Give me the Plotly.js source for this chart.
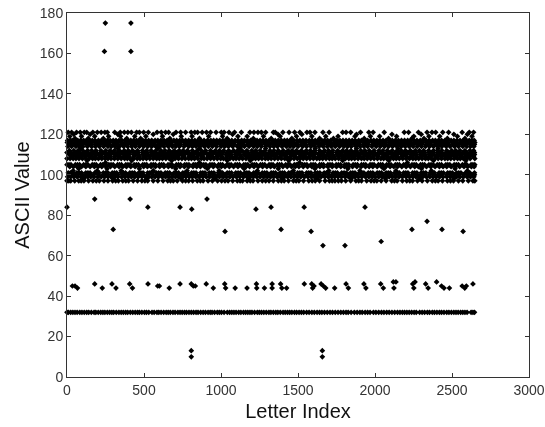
<!DOCTYPE html>
<html><head><meta charset="utf-8">
<script src="https://cdn.plot.ly/plotly-3.0.1.min.js"></script>
<style>html,body{margin:0;padding:0;background:#fff}#c{width:545px;height:427px;filter:blur(0.35px)}</style>
</head><body><div id="c"></div>
<script>
// Isolated points. Inside the saturated bands individual
// marks cannot be separated, so those x positions are estimates that reproduce the density.
const xTitle = "Letter Index", yTitle = "ASCII Value";
const row175 = [249,415];
const row161 = [243,415];
const row88 = [180,410,909];
const row84 = [0,525,734,1325,1540,1935];
const row83 = [810,1227];
const row77 = [2338];
const row73 = [300,1390,2240,2435];
const row72 = [1026,1585,2572];
const row67 = [2040];
const row65 = [1662,1805];
const row47 = [2119,2136,2260,2400];
const row46 = [180,292,407,526,734,807,904,1024,1230,1332,1387,1541,1589,1650,1812,1928,2037,2245,2329,2636];
const row45 = [35,52,589,600,820,833,1604,1665,2432,2566,2593];
const row44 = [68,229,318,425,664,950,1030,1092,1169,1232,1282,1332,1395,1426,1595,1680,1738,1827,1941,2054,2123,2252,2345,2448,2483,2583];
const row13 = [807,1658];
const row10 = [807,1658];
const row32 = [0,9,24,38,52,66,83,97,112,128,141,158,176,187,203,219,233,246,262,277,291,303,320,337,352,366,381,394,411,427,443,458,470,486,503,516,531,552,566,584,596,611,628,644,657,671,688,702,720,734,748,763,776,792,807,822,838,851,868,884,899,916,930,942,958,976,989,1003,1020,1041,1056,1070,1084,1098,1115,1129,1146,1160,1174,1188,1201,1218,1236,1249,1263,1278,1294,1311,1324,1340,1356,1369,1385,1403,1417,1432,1446,1460,1477,1491,1507,1522,1537,1556,1572,1590,1606,1624,1640,1655,1672,1690,1708,1724,1742,1760,1778,1795,1812,1826,1845,1866,1884,1902,1917,1936,1952,1968,1990,2006,2024,2042,2058,2076,2092,2110,2128,2146,2162,2178,2192,2207,2222,2238,2254,2268,2290,2306,2322,2340,2354,2372,2386,2402,2418,2432,2448,2466,2480,2496,2512,2526,2540,2556,2570,2584,2598,2624,2636,2646];
const row121 = [8,30,62,86,112,128,168,197,222,246,262,310,346,372,395,418,452,470,498,528,585,612,640,660,708,738,770,806,830,848,878,906,932,968,1002,1020,1052,1088,1132,1188,1214,1240,1262,1290,1340,1352,1402,1442,1478,1512,1558,1578,1610,1662,1702,1790,1812,1842,1906,1960,1988,2060,2190,2218,2282,2338,2370,2394,2440,2478,2566,2612,2640];
const row120 = [44,150,330,560,690,1075,1370,1525,1880,2110,2300,2512,2600];
const row119 = [18,94,180,270,348,440,512,620,742,812,920,1010,1110,1170,1276,1384,1490,1590,1680,1760,1870,1970,2030,2140,2252,2350,2420,2535,2630];
const row118 = [52,138,236,388,478,668,860,1040,1210,1326,1460,1640,1730,1930,2088,2240,2318,2470,2584];
const row117 = [4,22,34,52,70,88,108,126,146,164,182,204,224,242,262,280,300,318,338,356,376,394,414,432,452,472,492,510,530,550,572,590,610,630,650,672,694,712,732,750,770,790,810,830,852,870,890,912,934,952,972,992,1012,1030,1050,1070,1092,1112,1134,1152,1172,1192,1214,1234,1254,1272,1292,1312,1334,1352,1372,1392,1412,1430,1450,1472,1494,1512,1532,1552,1574,1592,1612,1632,1654,1672,1692,1712,1734,1752,1772,1792,1812,1832,1852,1872,1894,1912,1932,1952,1974,1992,2012,2032,2052,2072,2094,2112,2132,2152,2172,2192,2212,2232,2252,2272,2294,2312,2332,2352,2374,2392,2412,2432,2454,2474,2494,2512,2532,2552,2572,2592,2612,2628,2644];
const row116 = [2,15,28,56,70,84,110,138,150,164,192,220,233,246,274,300,314,328,354,382,396,410,436,464,478,490,518,546,559,572,600,626,640,654,680,708,722,736,762,790,803,816,844,870,884,898,926,952,966,980,1006,1034,1047,1060,1088,1116,1129,1142,1170,1196,1210,1224,1250,1278,1292,1306,1332,1360,1373,1386,1414,1440,1454,1468,1496,1522,1536,1550,1576,1604,1617,1630,1658,1686,1699,1712,1740,1766,1780,1794,1820,1848,1862,1876,1902,1930,1943,1956,1984,2010,2024,2038,2066,2092,2106,2120,2146,2174,2187,2200,2228,2256,2269,2282,2310,2336,2350,2364,2390,2418,2432,2446,2472,2500,2513,2526,2554,2580,2594,2608,2636,2648];
const row115 = [12,27,42,70,85,100,128,143,158,186,201,216,244,259,274,302,317,332,360,375,390,418,433,448,476,491,506,534,549,564,592,607,622,650,665,680,708,723,738,766,781,796,824,839,854,882,897,912,940,955,970,998,1013,1028,1056,1071,1086,1114,1129,1144,1172,1187,1202,1230,1245,1260,1288,1303,1318,1346,1361,1376,1404,1419,1434,1462,1477,1492,1520,1535,1550,1578,1593,1608,1636,1651,1666,1694,1709,1724,1752,1767,1782,1810,1825,1840,1868,1883,1898,1926,1941,1956,1984,1999,2014,2042,2057,2072,2100,2115,2130,2158,2173,2188,2216,2231,2246,2274,2289,2304,2332,2347,2362,2390,2405,2420,2448,2463,2478,2506,2521,2536,2564,2579,2594,2622,2634,2646];
const row114 = [6,30,58,80,104,132,160,184,210,238,266,288,312,340,368,394,420,444,470,498,524,550,576,604,630,658,684,706,730,760,790,814,838,864,892,918,944,972,1000,1024,1048,1076,1106,1130,1152,1182,1212,1236,1262,1290,1318,1342,1366,1396,1424,1448,1472,1500,1530,1556,1584,1610,1636,1664,1690,1716,1742,1770,1798,1822,1846,1876,1904,1928,1952,1980,2008,2034,2062,2088,2114,2142,2170,2196,2222,2248,2274,2302,2328,2354,2380,2408,2434,2462,2488,2516,2542,2570,2596,2620,2642];
const row113 = [90,330,590,860,1120,1290,1612,1880,2150,2410];
const row112 = [16,44,72,102,134,160,188,220,252,280,308,340,372,398,426,458,490,518,546,578,610,636,664,696,728,754,782,814,846,872,900,932,964,990,1018,1050,1082,1108,1136,1168,1200,1226,1254,1286,1318,1344,1372,1404,1436,1462,1490,1522,1554,1580,1608,1640,1672,1698,1726,1758,1790,1816,1844,1876,1908,1934,1962,1994,2026,2052,2080,2112,2144,2170,2198,2230,2262,2288,2316,2348,2380,2406,2434,2466,2498,2524,2552,2584,2616,2640];
const row111 = [0,13,26,54,68,82,110,123,136,164,178,192,218,232,246,274,287,300,328,342,356,382,396,410,438,451,464,492,506,520,546,560,574,602,615,628,656,670,684,710,724,738,766,779,792,820,834,848,874,888,902,930,943,956,984,998,1012,1038,1052,1066,1094,1107,1120,1148,1162,1176,1202,1216,1230,1258,1271,1284,1312,1326,1340,1366,1380,1394,1422,1435,1448,1476,1490,1504,1530,1544,1558,1586,1599,1612,1640,1654,1668,1694,1708,1722,1750,1763,1776,1804,1818,1832,1858,1872,1886,1914,1927,1940,1968,1982,1996,2022,2036,2050,2078,2091,2104,2132,2146,2160,2186,2200,2214,2242,2255,2268,2296,2310,2324,2350,2364,2378,2406,2419,2432,2460,2474,2488,2514,2528,2542,2570,2583,2596,2624,2636,2646];
const row110 = [14,29,44,72,88,104,132,148,164,192,208,224,252,268,284,312,328,344,372,388,404,432,448,464,492,508,524,552,568,584,612,628,644,672,688,704,732,748,764,792,808,824,852,868,884,912,928,944,972,988,1004,1032,1048,1064,1092,1108,1124,1152,1168,1184,1212,1228,1244,1272,1288,1304,1332,1348,1364,1392,1408,1424,1452,1468,1484,1512,1528,1544,1572,1588,1604,1632,1648,1664,1692,1708,1724,1752,1768,1784,1812,1828,1844,1872,1888,1904,1932,1948,1964,1992,2008,2024,2052,2068,2084,2112,2128,2144,2172,2188,2204,2232,2248,2264,2292,2308,2324,2352,2368,2384,2412,2428,2444,2472,2488,2504,2532,2548,2564,2592,2608,2624,2646];
const row109 = [30,60,92,120,148,182,216,248,280,310,340,368,398,434,470,504,538,566,596,628,660,688,718,756,792,818,846,880,916,944,974,1006,1040,1068,1098,1132,1168,1196,1226,1260,1294,1322,1352,1386,1422,1450,1480,1514,1548,1576,1606,1640,1674,1702,1732,1766,1800,1828,1858,1892,1926,1954,1984,2018,2052,2080,2110,2144,2178,2206,2236,2270,2304,2332,2362,2396,2430,2458,2488,2522,2556,2584,2614,2640];
const row108 = [0,20,40,58,78,100,122,144,166,184,204,226,248,266,286,308,330,352,374,392,412,434,456,474,494,516,538,560,582,600,620,642,664,682,702,724,746,768,790,808,828,850,872,890,910,932,954,976,998,1016,1036,1058,1080,1098,1118,1140,1162,1184,1206,1224,1244,1266,1288,1306,1326,1348,1370,1392,1414,1432,1452,1474,1496,1514,1534,1556,1578,1600,1622,1640,1660,1682,1704,1722,1742,1764,1786,1808,1830,1848,1868,1890,1912,1930,1950,1972,1994,2016,2038,2056,2076,2098,2120,2138,2158,2180,2202,2224,2246,2264,2284,2306,2328,2346,2366,2388,2410,2432,2454,2472,2492,2514,2536,2554,2574,2596,2618,2648];
const row107 = [130,420,680,1040,1190,1440,1790,2090,2380,2590];
const row106 = [250,860,1510,2210];
const row105 = [0,13,26,54,68,82,108,122,136,164,177,190,218,232,246,272,286,300,328,341,354,382,396,410,436,450,464,492,505,518,546,560,574,600,614,628,656,669,682,710,724,738,764,778,792,820,833,846,874,888,902,928,942,956,984,997,1010,1038,1052,1066,1092,1106,1120,1148,1161,1174,1202,1216,1230,1256,1270,1284,1312,1325,1338,1366,1380,1394,1420,1434,1448,1476,1489,1502,1530,1544,1558,1584,1598,1612,1640,1653,1666,1694,1708,1722,1748,1762,1776,1804,1817,1830,1858,1872,1886,1912,1926,1940,1968,1981,1994,2022,2036,2050,2076,2090,2104,2132,2145,2158,2186,2200,2214,2240,2254,2268,2296,2309,2322,2350,2364,2378,2404,2418,2432,2460,2473,2486,2514,2528,2542,2568,2582,2596,2624,2636,2648];
const row104 = [18,42,66,94,122,150,178,202,226,254,282,310,338,362,386,414,442,470,498,522,546,574,602,630,658,682,706,734,762,790,818,842,866,894,922,950,978,1002,1026,1054,1082,1110,1138,1162,1186,1214,1242,1270,1298,1322,1346,1374,1402,1430,1458,1482,1506,1534,1562,1590,1618,1642,1666,1694,1722,1750,1778,1802,1826,1854,1882,1910,1938,1962,1986,2014,2042,2070,2098,2122,2146,2174,2202,2230,2258,2282,2306,2334,2362,2390,2418,2442,2466,2494,2522,2550,2578,2602,2626,2644];
const row103 = [76,260,470,706,912,1150,1372,1610,1824,2058,2302,2520];
const row102 = [40,196,352,560,780,988,1236,1470,1700,1902,2136,2366,2600];
const row101 = [8,22,36,64,79,94,122,136,150,180,194,208,236,251,266,294,308,322,352,366,380,408,423,438,466,480,494,524,538,552,580,595,610,638,652,666,696,710,724,752,767,782,810,824,838,868,882,896,924,939,954,982,996,1010,1040,1054,1068,1096,1111,1126,1154,1168,1182,1212,1226,1240,1268,1283,1298,1326,1340,1354,1384,1398,1412,1440,1455,1470,1498,1512,1526,1556,1570,1584,1612,1627,1642,1670,1684,1698,1728,1742,1756,1784,1799,1814,1842,1856,1870,1900,1914,1928,1956,1971,1986,2014,2028,2042,2072,2086,2100,2128,2143,2158,2186,2200,2214,2244,2258,2272,2300,2315,2330,2358,2372,2386,2416,2430,2444,2472,2487,2502,2530,2544,2558,2588,2602,2616,2646];
const row100 = [22,46,70,100,128,150,172,204,236,262,288,310,330,362,396,422,448,470,492,524,556,580,604,628,652,684,716,740,762,788,814,840,868,896,926,954,984,1006,1028,1060,1092,1118,1144,1170,1196,1226,1256,1282,1308,1336,1366,1392,1418,1446,1476,1502,1528,1556,1586,1612,1638,1666,1696,1722,1748,1776,1806,1832,1858,1886,1916,1942,1968,1996,2026,2052,2078,2106,2136,2162,2188,2216,2246,2272,2298,2326,2356,2382,2408,2436,2466,2492,2518,2546,2576,2602,2628,2646];
const row99 = [4,24,44,66,90,112,134,154,176,200,222,244,266,286,308,330,354,376,398,418,440,462,486,508,530,550,572,594,618,640,662,682,704,726,750,772,794,814,836,858,882,904,926,946,968,990,1014,1036,1058,1078,1100,1122,1146,1168,1190,1210,1232,1254,1278,1300,1322,1342,1364,1386,1410,1432,1454,1474,1496,1518,1542,1564,1586,1606,1628,1650,1674,1696,1718,1738,1760,1782,1806,1828,1850,1870,1892,1914,1938,1960,1982,2002,2024,2046,2070,2092,2114,2134,2156,2178,2202,2224,2246,2266,2288,2310,2334,2356,2378,2398,2420,2442,2466,2488,2510,2530,2552,2574,2598,2620,2642];
const row98 = [110,300,520,742,960,1180,1402,1624,1846,2068,2290,2512];
const row97 = [0,12,24,50,76,92,110,140,168,190,210,240,266,296,316,334,362,382,400,430,458,486,506,524,560,590,624,654,672,690,716,750,770,790,816,846,866,884,916,944,978,1004,1026,1046,1076,1106,1124,1140,1170,1190,1208,1240,1268,1290,1312,1340,1372,1392,1410,1438,1470,1488,1506,1536,1570,1592,1612,1640,1676,1704,1722,1740,1762,1782,1810,1842,1876,1894,1912,1946,1974,1994,2012,2040,2072,2108,2126,2144,2178,2206,2226,2244,2276,2306,2340,2372,2392,2410,2438,2470,2490,2510,2542,2570,2606,2636,2648];

const rows = [[175,row175],[161,row161],[88,row88],[84,row84],[83,row83],[77,row77],[73,row73],[72,row72],[67,row67],[65,row65],[47,row47],[46,row46],[45,row45],[44,row44],[32,row32],[13,row13],[10,row10],[121,row121],[120,row120],[119,row119],[118,row118],[117,row117],[116,row116],[115,row115],[114,row114],[113,row113],[112,row112],[111,row111],[110,row110],[109,row109],[108,row108],[107,row107],[106,row106],[105,row105],[104,row104],[103,row103],[102,row102],[101,row101],[100,row100],[99,row99],[98,row98],[97,row97]];
const xs = [], ys = [];
rows.forEach(([v, list]) => list.forEach(i => { xs.push(i); ys.push(v); }));

const axisCommon = {ticks:'inside', ticklen:4, tickwidth:1, tickcolor:'#333', showline:true, linecolor:'#333', linewidth:1, mirror:'ticks', showgrid:false, zeroline:false, tickfont:{family:'Liberation Sans, Arial, sans-serif', size:14, color:'#333'}};
Plotly.newPlot('c', [{x:xs, y:ys, type:'scatter', mode:'markers', cliponaxis:false, marker:{symbol:'diamond', size:4.4, color:'#000'}, hoverinfo:'skip'}], {
  width:545, height:427, paper_bgcolor:'#fff', plot_bgcolor:'#fff', showlegend:false,
  margin:{l:67, r:16, t:13, b:50, pad:0},
  xaxis:Object.assign({}, axisCommon, {range:[0,3000], dtick:500, title:{text:xTitle, standoff:7, font:{family:'Liberation Sans, Arial, sans-serif', size:20, color:'#111'}}}),
  yaxis:Object.assign({}, axisCommon, {range:[0,180], dtick:20, title:{text:yTitle, standoff:4, font:{family:'Liberation Sans, Arial, sans-serif', size:20, color:'#111'}}})
}, {staticPlot:true, displayModeBar:false});
</script></body></html>
